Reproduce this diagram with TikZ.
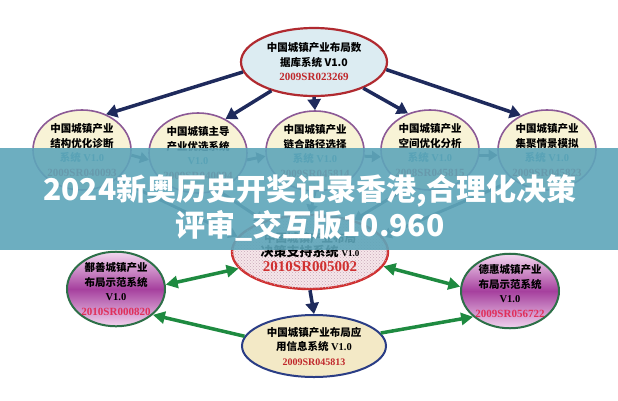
\documentclass[tikz,border=0pt]{standalone}
\usepackage{fontspec}
\setmainfont{Liberation Serif}
\newfontfamily\cjk{Noto Sans CJK SC}
\usetikzlibrary{shapes.geometric,arrows.meta,patterns}
\definecolor{redE}{HTML}{B02A30}
\definecolor{redC}{HTML}{D03030}
\definecolor{lblue}{HTML}{DCECF2}
\definecolor{cream}{HTML}{F8F3D6}
\definecolor{purpE}{HTML}{8C5A96}
\definecolor{greenE}{HTML}{2D7048}
\definecolor{navyE}{HTML}{2A3D85}
\definecolor{tan}{HTML}{F3E9C6}
\definecolor{navy}{HTML}{1E2A5C}
\definecolor{slate}{HTML}{3F4D6A}
\definecolor{greenA}{HTML}{1E8A40}
\definecolor{tealT}{HTML}{2E8494}
\definecolor{redT}{HTML}{C0282C}
\definecolor{pinkT}{HTML}{E0305A}
\definecolor{pinkF}{HTML}{F6E6EA}
\definecolor{bannerC}{HTML}{5EA6BA}
\definecolor{sideTop}{HTML}{F3D8F0}
\definecolor{sideBot}{HTML}{F2D4EE}
\definecolor{sideMid}{HTML}{A6409E}
\definecolor{dotC}{HTML}{C8A8B8}
\newcommand\regnum[3]{{\rmfamily\bfseries\fontsize{#1}{14}\selectfont\color{#2}#3}}
\begin{document}
\begin{tikzpicture}[x=1pt,y=-1pt,
  cjkf/.style={font=\cjk\bfseries\fontsize{10.5}{14.5}\selectfont},
  topell/.style={ellipse, draw=redE, line width=2.2pt, fill=lblue, minimum width=146pt, minimum height=68pt, inner sep=0pt, align=center, cjkf},
  rowcirc/.style={ellipse, draw=purpE, line width=1.6pt, fill=cream, minimum width=98pt, minimum height=80pt, inner sep=0pt, align=center, cjkf},
  sideell/.style={ellipse, draw=greenE, line width=2pt, top color=sideTop, bottom color=sideBot, middle color=sideMid, minimum width=98pt, minimum height=72pt, inner sep=0pt, align=center, cjkf},
  centell/.style={ellipse, draw=redC, line width=2.4pt, fill=pinkF, postaction={pattern=crosshatch dots, pattern color=dotC}, minimum width=156pt, minimum height=74pt, inner sep=0pt, align=center, cjkf},
  botell/.style={ellipse, draw=navyE, line width=2pt, fill=tan, minimum width=144pt, minimum height=62pt, inner sep=0pt, align=center, cjkf},
  navyarrow/.style={draw=navy, line width=3.5pt, -{Triangle[length=11pt,width=13pt]}},
  slatearrow/.style={draw=slate, line width=3pt, -{Triangle[length=9pt,width=11pt]}},
  greenarrow/.style={draw=greenA, line width=3.5pt, -{Triangle[length=12pt,width=12pt]}},
  greendbl/.style={draw=greenA, line width=3.5pt, {Triangle[length=12pt,width=12pt]}-{Triangle[length=12pt,width=12pt]}},
]
\useasboundingbox (0,0) rectangle (618,400);
\fill[white] (0,0) rectangle (618,400);

% top database ellipse
\node[topell] (db) at (314,62) {中国城镇产业布局数\\据库系统 V1.0\\\regnum{11}{redT}{2009SR023269}};

% row of five systems
\node[rowcirc] (c1) at (82,150) {中国城镇产业\\结构优化诊断\\{\color{tealT}系统 \rmfamily\bfseries V1.0}\\\regnum{11}{redT}{2009SR040093}};
\node[rowcirc] (c2) at (198,153) {中国城镇主导\\产业优选系统\\{\color{tealT}\rmfamily\bfseries V1.0}\\\regnum{11}{redT}{2009SR040094}};
\node[rowcirc] (c3) at (315,151) {中国城镇产业\\链合路径选择\\{\color{tealT}系统 \rmfamily\bfseries V1.0}\\\regnum{11}{redT}{2009SR045814}};
\node[rowcirc] (c4) at (430,150) {中国城镇产业\\空间优化分析\\{\color{tealT}系统 \rmfamily\bfseries V1.0}\\\regnum{11}{redT}{2008SR045815}};
\node[rowcirc] (c5) at (547,150) {中国城镇产业\\集聚情景模拟\\{\color{tealT}系统 \rmfamily\bfseries V1.0}\\\regnum{11}{redT}{2009SR045823}};

% centre decision support ellipse
\node[centell] (ce) at (310,252) {{\fontsize{11.5}{15}\selectfont 中国城镇产业布局}\\{\fontsize{13}{16}\selectfont 决策支持系统 {\rmfamily\bfseries\fontsize{9}{10}\selectfont V1.0}}\\\regnum{15}{redC}{2010SR005002}};

% side demo systems
\node[sideell] (le) at (116,289) {鄯善城镇产业\\布局示范系统\\{\rmfamily\bfseries V1.0}\\\regnum{11}{pinkT}{2010SR000820}};
\node[sideell] (re) at (510,291) {德惠城镇产业\\布局示范系统\\{\rmfamily\bfseries V1.0}\\\regnum{11}{pinkT}{2009SR056722}};

% bottom application ellipse
\node[botell] (be) at (314,346) {中国城镇产业布局应\\用信息系统 {\rmfamily\bfseries V1.0}\\\regnum{10}{redT}{2009SR045813}};

% arrows from the database
\draw[navyarrow] (db.188) -- (c1.56);
\draw[navyarrow] (db.214) -- (c2.51);
\draw[navyarrow] (db.270) -- (c3.90);
\draw[navyarrow] (db.332) -- (c4.121);
\draw[navyarrow] (db.354) -- (c5.127);

% arrows along the row
\draw[slatearrow] (c1.-6) -- (c2.188);
\draw[slatearrow] (c2.-8) -- (c3.186);
\draw[slatearrow] (c3.-6) -- (c4.188);
\draw[slatearrow] (c4.-6) -- (c5.186);

% arrows from the row down to the centre
\draw[slatearrow] (c1.-40) -- (ce.168);
\draw[slatearrow] (c2.-62) -- (ce.146);
\draw[slatearrow] (c3.270) -- (ce.90);
\draw[slatearrow] (c4.240) -- (ce.36);
\draw[slatearrow] (c5.222) -- (ce.12);

% centre to bottom
\draw[navyarrow] (ce.270) -- (be.90);

% green links
\draw[greendbl] (le.5) -- (ce.193);
\draw[greenarrow] (be.172) -- (le.-35);
\draw[greendbl] (ce.-11) -- (re.175);
\draw[greenarrow] (be.11) -- (re.215);

% banner
\fill[bannerC, opacity=0.9] (0,148) rectangle (618,250);
\node[text=white, font=\cjk\bfseries\fontsize{30}{36}\selectfont, align=center, inner sep=0pt] (banner) at (310,208) {2024新奥历史开奖记录香港,合理化决策\\评审\_交互版10.960};
\end{tikzpicture}
\end{document}
